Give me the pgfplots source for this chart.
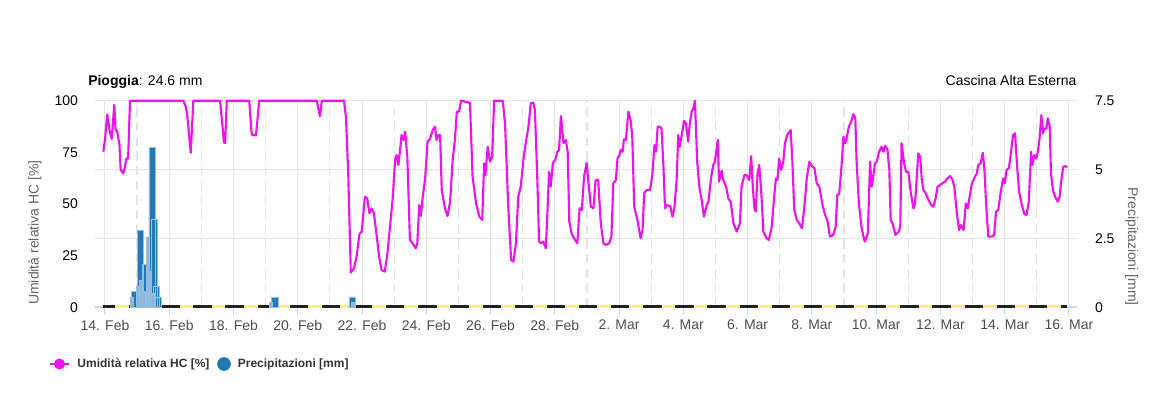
\documentclass[border=0pt]{standalone}
\usepackage{pgfplots}
\usepackage{pgfplotstable}
\pgfplotsset{compat=1.18}
\usepackage{fontspec}
\setmainfont{Liberation Sans}
\definecolor{hum}{RGB}{235,20,235}
\definecolor{rain}{RGB}{35,120,182}
\definecolor{rainlight}{RGB}{140,182,216}
\definecolor{rainedge}{RGB}{150,190,222}
\definecolor{gridgray}{RGB}{228,228,228}
\definecolor{axisblue}{RGB}{204,214,235}
\definecolor{titlegray}{RGB}{102,102,102}
\definecolor{labgray}{RGB}{77,77,77}
\definecolor{leggray}{RGB}{51,51,51}
\definecolor{dayyellow}{RGB}{250,240,125}
\definecolor{nightblack}{RGB}{34,34,34}

\pgfplotstableread{
d h
-0.05 75.3
0.00 81
0.07 93.3
0.14 86
0.21 81.5
0.29 97.9
0.33 86
0.38 85
0.45 79
0.49 66.5
0.57 64.8
0.62 68
0.67 72.1
0.72 72
0.78 100
2.44 100
2.49 98
2.52 97
2.56 93
2.67 74.8
2.75 100
3.58 100
3.66 87.4
3.70 80
3.74 79.4
3.79 100
4.49 100
4.56 85
4.58 83.4
4.70 83.2
4.80 100
6.59 100
6.69 92.5
6.75 100
7.44 100
7.50 92
7.57 65
7.65 16.8
7.75 18.9
7.83 24.5
7.92 35.5
7.99 36.6
8.09 53.5
8.16 52.7
8.23 45.5
8.30 47.9
8.37 45.5
8.46 34.2
8.53 24.5
8.61 18
8.71 17.3
8.79 26.1
8.87 39
8.95 51.9
9.03 71.6
9.08 73.7
9.13 68.9
9.20 78.5
9.23 83.4
9.29 81
9.34 85
9.41 72.9
9.49 32.6
9.57 31
9.67 28.5
9.72 31
9.78 49.5
9.83 44.2
9.89 53.5
9.96 61.6
10.04 80.2
10.11 81.3
10.20 85.8
10.27 87.4
10.32 81
10.38 83.4
10.43 83.4
10.48 56.8
10.58 47.9
10.66 44.2
10.74 51.1
10.82 71.3
10.89 81
10.95 94.7
11.02 94.7
11.08 100
11.36 99
11.44 63.2
11.55 50.3
11.65 43.9
11.74 42.3
11.80 69.7
11.84 64
11.91 77.7
11.98 70.5
12.05 72.9
12.11 100
12.38 100
12.45 89
12.55 48.7
12.64 22.9
12.71 22.1
12.79 31
12.86 53.5
12.94 58.4
13.02 71.3
13.10 80.2
13.18 87.4
13.25 98.7
13.33 99
13.38 95.5
13.45 64.8
13.51 31.8
13.57 31
13.64 31.8
13.72 28.5
13.77 46.3
13.82 65.6
13.87 58.4
13.94 69.7
14.01 71.3
14.08 75.3
14.13 76.1
14.19 92.6
14.27 79.4
14.34 81
14.40 75.3
14.45 41.5
14.52 35.8
14.63 32.6
14.70 31
14.77 47.9
14.84 47
14.91 63.2
14.99 70
15.04 61.6
15.12 48.7
15.20 47.9
15.27 61.6
15.35 61.6
15.43 40.6
15.51 31
15.59 30.2
15.69 31
15.76 34.2
15.82 60
15.90 61.6
15.95 72.1
16.01 73.7
16.05 76.1
16.11 75.3
16.15 81.3
16.21 81
16.29 94.7
16.36 90.6
16.41 82.6
16.47 48.7
16.57 42.3
16.67 33.4
16.73 37.4
16.78 55.2
16.86 56.8
16.96 56.8
17.03 63.2
17.10 78.5
17.15 75.3
17.20 87.4
17.27 87.4
17.32 86.6
17.38 68
17.43 47.9
17.48 49.5
17.59 49
17.66 43.9
17.72 47.9
17.79 61.6
17.84 83.4
17.89 77.7
17.95 83.4
18.02 90.3
18.08 89
18.15 80.2
18.20 89
18.26 94.7
18.31 96.3
18.36 100
18.43 70.5
18.50 58
18.57 51.9
18.64 43.9
18.73 49.5
18.78 51.1
18.86 62.4
18.93 68.9
18.98 70.5
19.07 81
19.11 60.8
19.19 66.1
19.24 61.6
19.33 58.4
19.40 52.7
19.47 51.1
19.56 40.6
19.66 36.6
19.76 40.6
19.81 58.4
19.90 64
19.97 64
20.05 61.6
20.11 73.2
20.16 58.4
20.21 47.9
20.25 46.3
20.31 64.8
20.36 68.9
20.42 56.8
20.49 36.6
20.59 33.4
20.66 32.6
20.75 39
20.82 52.7
20.88 62.4
20.93 61.6
20.98 72.1
21.04 66.5
21.11 70.5
21.16 79.4
21.23 83.4
21.30 85
21.34 85.8
21.39 71.3
21.45 47.1
21.53 42.3
21.61 40.6
21.69 38.2
21.76 47.9
21.84 62.4
21.92 70.5
22.00 68.4
22.08 67.3
22.15 60
22.23 58.4
22.33 49.5
22.41 44.7
22.49 41.5
22.56 34.2
22.66 35
22.74 39
22.79 54.4
22.85 54.8
22.92 68
22.98 82.6
23.03 79.4
23.08 81.8
23.15 87.4
23.22 89.8
23.29 93.5
23.35 91.5
23.39 71.3
23.46 50.3
23.55 38.2
23.63 32.6
23.65 31.8
23.74 35.8
23.81 70.5
23.86 58.4
23.91 63.2
23.96 69.7
24.02 70.5
24.09 75.3
24.17 77.7
24.23 75.3
24.28 78.1
24.35 76.5
24.41 66.5
24.45 42.3
24.51 40.6
24.60 35
24.70 36.6
24.75 39
24.79 79.4
24.87 69.7
24.93 65.6
25.00 65.6
25.08 55.2
25.16 47.9
25.21 50.3
25.26 62.4
25.31 74.5
25.37 72.9
25.42 61.6
25.47 56.8
25.54 55.2
25.63 51.9
25.71 49.5
25.78 48.7
25.85 52.7
25.91 58.4
25.99 59.2
26.06 60
26.14 60.8
26.22 62.4
26.30 63.5
26.37 61.9
26.43 58.4
26.51 45.5
26.58 37.4
26.63 39.8
26.72 37.4
26.79 50.3
26.85 47.9
26.90 52.7
26.98 60
27.05 62.4
27.13 64.8
27.18 68.9
27.25 69.7
27.32 74.8
27.37 66.5
27.42 50.3
27.49 34.2
27.60 34.2
27.67 35
27.73 46.3
27.80 47.1
27.87 55.2
27.95 62.4
28.00 60
28.06 66.5
28.13 67.3
28.19 74.5
28.26 83.4
28.32 84.2
28.39 67.3
28.45 56
28.52 50.3
28.61 45.2
28.68 44.7
28.75 51.1
28.82 75.3
28.86 68.9
28.92 73.7
28.98 72.1
29.03 75.3
29.08 81
29.14 93
29.19 84.2
29.24 86.6
29.30 86.6
29.34 91.5
29.40 87.4
29.44 64.8
29.50 56.8
29.57 53.5
29.65 51.1
29.71 53.5
29.75 60
29.82 68
29.89 68.4
29.94 67.6
}\humtable

\begin{document}
\begin{tikzpicture}[x=0.75pt,y=0.75pt]
\path[use as bounding box] (-95,-90.7) rectangle (1060,307.3);
% ---------- precipitation axis (right) with the grid ----------
\begin{axis}[
  at={(0,0)}, anchor=south west,
  scale only axis, width=736.5pt, height=154.95pt,
  xmin=-0.31, xmax=30.25, ymin=0, ymax=7.5,
  axis x line*=bottom, axis y line*=right,
  x axis line style={-, draw=axisblue, line width=1.2pt},
  y axis line style={draw=none},
  xtick={0,2,...,30},
  xticklabels={14. Feb,16. Feb,18. Feb,20. Feb,22. Feb,24. Feb,26. Feb,28. Feb,2. Mar,4. Mar,6. Mar,8. Mar,10. Mar,12. Mar,14. Mar,16. Mar},
  minor xtick={1,3,...,29},
  xmajorgrids, xminorgrids, ymajorgrids,
  major grid style={gridgray, line width=0.75pt},
  minor grid style={gridgray, line width=0.9pt, dash pattern=on 7pt off 4pt},
  xtick style={draw=axisblue, line width=0.75pt},
  minor tick length=0pt,
  tick align=outside, major tick length=6pt,
  ytick={0,2.5,5,7.5}, yticklabels={0,2.5,5,7.5},
  ytick style={draw=none},
  /pgf/number format/assume math mode=true,
  xticklabel style={font=\fontsize{10.5}{12}\selectfont, text=labgray},
  yticklabel style={font=\fontsize{10.5}{12}\selectfont, text=black, anchor=west, xshift=4pt},
  ylabel={Precipitazioni [mm]},
  every axis y label/.style={at={(rel axis cs:1.0557,0.293)}, rotate=-90, anchor=center, font=\fontsize{10.5}{12}\selectfont, text=titlegray},
]
% day / night strip at zero
\addplot[dayyellow, line width=1.6pt] coordinates {(-0.05,0.03) (29.94,0.03)};
\addplot[nightblack, line width=1.7pt, unbounded coords=jump] coordinates {
(-0.05,0.03) (0.32,0.03) (0.5,nan)
(0.75,0.03) (1.32,0.03) (1.5,nan)
(1.75,0.03) (2.32,0.03) (2.5,nan)
(2.75,0.03) (3.32,0.03) (3.5,nan)
(3.75,0.03) (4.32,0.03) (4.5,nan)
(4.75,0.03) (5.32,0.03) (5.5,nan)
(5.75,0.03) (6.32,0.03) (6.5,nan)
(6.75,0.03) (7.32,0.03) (7.5,nan)
(7.75,0.03) (8.32,0.03) (8.5,nan)
(8.75,0.03) (9.32,0.03) (9.5,nan)
(9.75,0.03) (10.32,0.03) (10.5,nan)
(10.75,0.03) (11.32,0.03) (11.5,nan)
(11.75,0.03) (12.32,0.03) (12.5,nan)
(12.75,0.03) (13.32,0.03) (13.5,nan)
(13.75,0.03) (14.32,0.03) (14.5,nan)
(14.75,0.03) (15.32,0.03) (15.5,nan)
(15.75,0.03) (16.32,0.03) (16.5,nan)
(16.75,0.03) (17.32,0.03) (17.5,nan)
(17.75,0.03) (18.32,0.03) (18.5,nan)
(18.75,0.03) (19.32,0.03) (19.5,nan)
(19.75,0.03) (20.32,0.03) (20.5,nan)
(20.75,0.03) (21.32,0.03) (21.5,nan)
(21.75,0.03) (22.32,0.03) (22.5,nan)
(22.75,0.03) (23.32,0.03) (23.5,nan)
(23.75,0.03) (24.32,0.03) (24.5,nan)
(24.75,0.03) (25.32,0.03) (25.5,nan)
(25.75,0.03) (26.32,0.03) (26.5,nan)
(26.75,0.03) (27.32,0.03) (27.5,nan)
(27.75,0.03) (28.32,0.03) (28.5,nan)
(28.75,0.03) (29.32,0.03) (29.5,nan)
(29.75,0.03) (29.94,0.03)
};
% precipitation bars
\addplot[ybar, bar width=0.2, bar shift=0pt, fill=rain, draw=rainedge, line width=0.4pt] coordinates {
(1.47,5.81) (1.10,2.80) (1.265,1.57) (0.92,0.59) (1.54,3.19) (1.60,0.77) (1.65,0.36) (5.29,0.36) (7.69,0.38)
};
\addplot[ybar, bar width=0.09, bar shift=0pt, fill=rainlight, draw=rainedge, line width=0.4pt] coordinates {
(0.84,0.38) (1.02,0.75) (1.12,0.99) (1.21,0.6) (1.33,2.56) (1.40,1.3) (1.50,0.5) (5.17,0.19) (7.72,0.19)
};
\end{axis}
% ---------- humidity axis (left) ----------
\begin{axis}[
  at={(0,0)}, anchor=south west,
  scale only axis, width=736.5pt, height=154.95pt,
  xmin=-0.31, xmax=30.25, ymin=0, ymax=100,
  clip=false,
  axis x line=none, axis y line*=left,
  y axis line style={draw=none},
  ytick={0,25,50,75,100}, yticklabels={0,25,50,75,100},
  ytick style={draw=none},
  /pgf/number format/assume math mode=true,
  yticklabel style={font=\fontsize{10.5}{12}\selectfont, text=black, anchor=east, xshift=-9.25pt},
  ylabel={Umidità relativa HC [\%]},
  every axis y label/.style={at={(rel axis cs:-0.0611,0.362)}, rotate=90, anchor=center, font=\fontsize{10.5}{12}\selectfont, text=titlegray},
  legend image code/.code={\draw[mark repeat=2,mark phase=2,#1] plot coordinates {(0pt,0pt) (7.1pt,0pt) (14.2pt,0pt)};},
  legend columns=2,
  legend style={at={(rel axis cs:-0.0468,-0.2745)}, anchor=west, draw=none, fill=none,
    inner sep=0pt, outer sep=0pt,
    nodes={inner sep=0pt, text=leggray, font=\bfseries\fontsize{9}{11}\selectfont},
    /tikz/every odd column/.append style={column sep=5.5pt},
    /tikz/every even column/.append style={column sep=6pt}},
]
\addplot[hum, line width=1.6pt, line join=round, forget plot] table[x=d, y=h] {\humtable};
\addlegendimage{hum, line width=1.6pt, mark=*, mark size=3.3pt}
\addlegendentry{Umidità relativa HC [\%]}
\addlegendimage{only marks, mark=*, rain, mark size=4.9pt}
\addlegendentry{Precipitazioni [mm]}
\end{axis}
\node[anchor=base west, inner sep=0pt, font=\fontsize{10.5}{12}\selectfont] at (-7,221.5) {\textbf{Pioggia}: 24.6 mm};
\node[anchor=base east, inner sep=0pt, font=\fontsize{10.5}{12}\selectfont] at (981.7,221.5) {Cascina Alta Esterna};
\end{tikzpicture}
\end{document}
